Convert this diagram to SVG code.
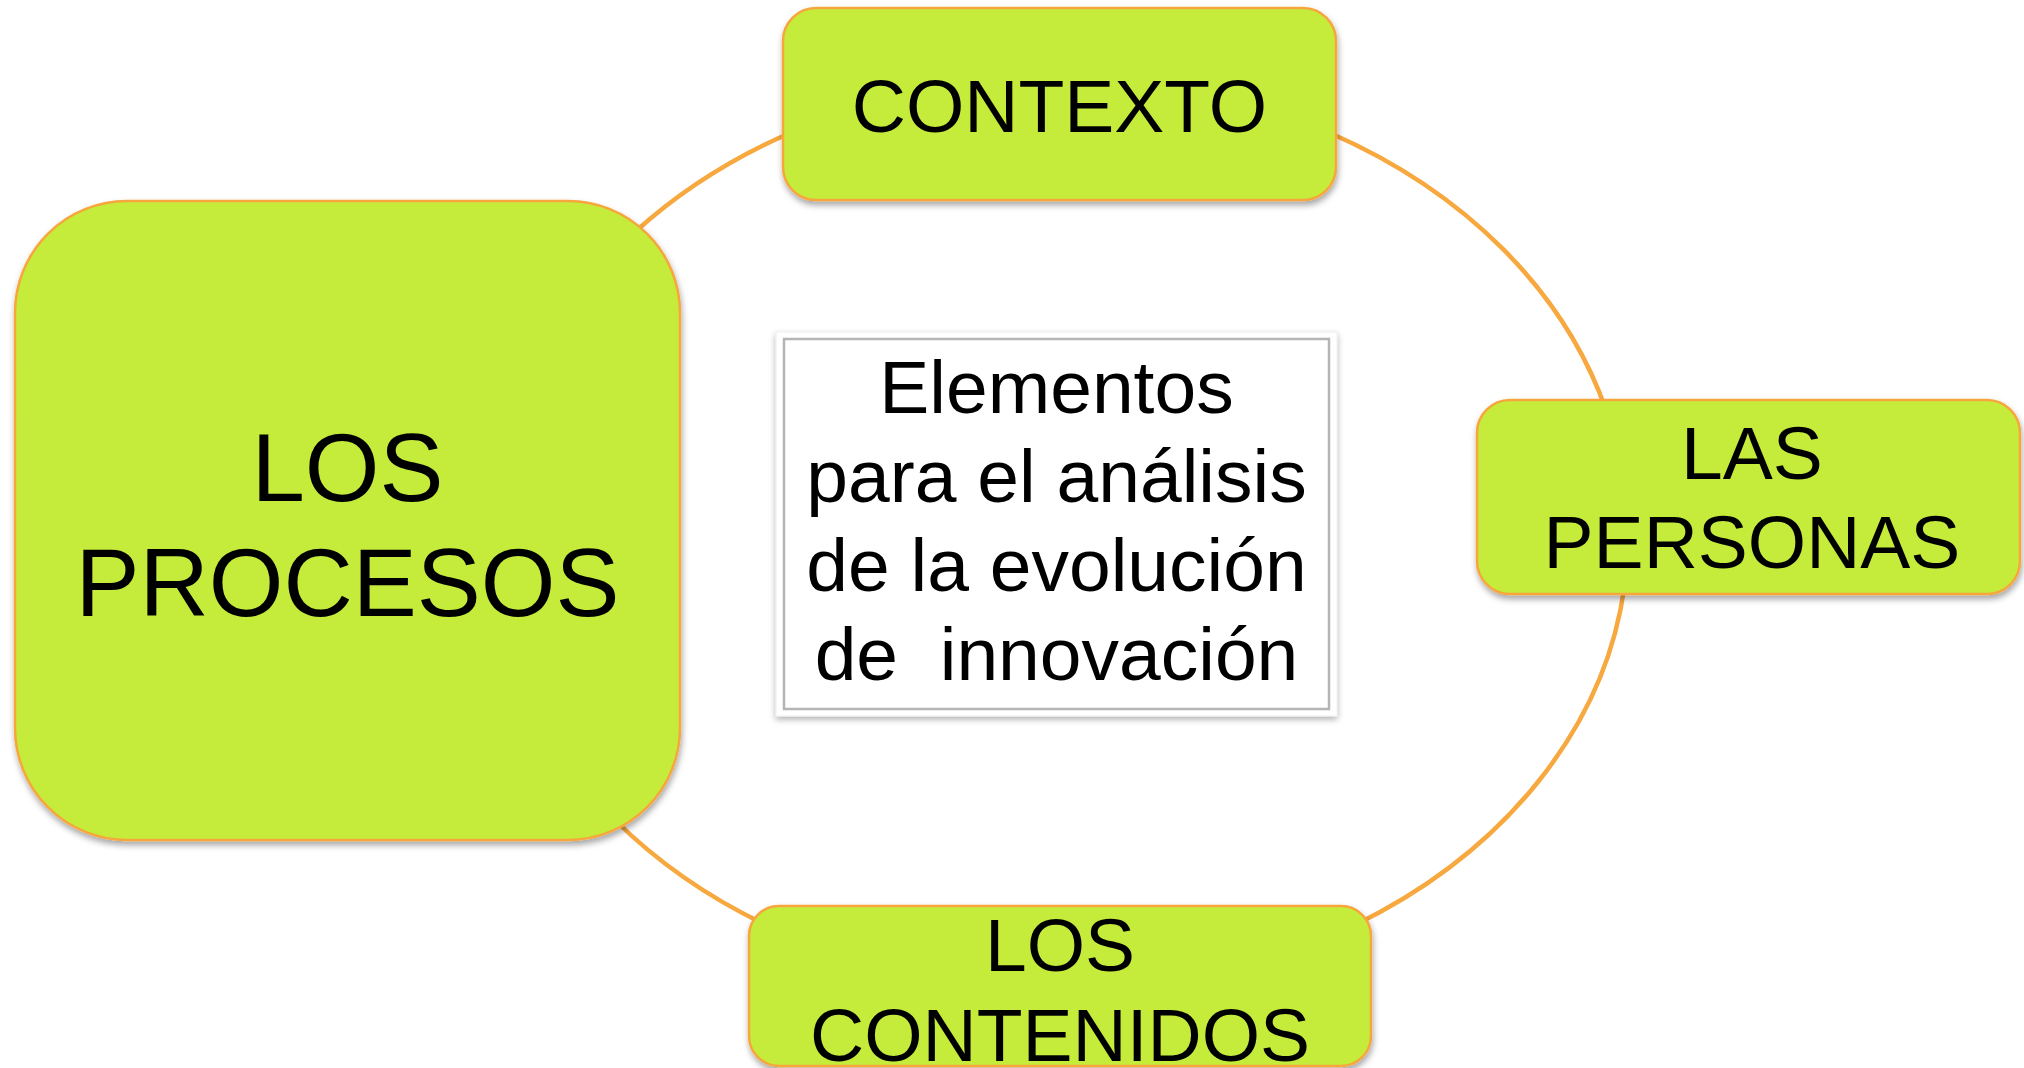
<svg xmlns="http://www.w3.org/2000/svg" width="2024" height="1068" viewBox="0 0 2024 1068">
  <defs>
    <filter id="sh" x="-10%" y="-10%" width="120%" height="125%">
      <feDropShadow dx="1" dy="4" stdDeviation="3" flood-color="#000" flood-opacity="0.35"/>
    </filter>
    <filter id="sh2" x="-10%" y="-10%" width="120%" height="125%">
      <feDropShadow dx="0" dy="3" stdDeviation="3" flood-color="#000" flood-opacity="0.3"/>
    </filter>
  </defs>
  <style>
    .node { fill: #C5EC3A; stroke: #F7A63C; stroke-width: 2.5; filter: url(#sh); }
    .lbl { font-family: "Liberation Sans", Arial, sans-serif; fill: #000; text-anchor: middle; }
    .conn { fill: none; stroke: #F7A83E; stroke-width: 4.5; }
  </style>
  <rect width="2024" height="1068" fill="#fff"/>
  <g id="connectors">
    <path class="conn" d="M1330,133 A570,455 0 0 1 1606,410"/>
    <path class="conn" d="M1624.5,586 A570,455 0 0 1 1355,925"/>
    <path class="conn" d="M764,924 A570,455 0 0 1 615,820"/>
    <path class="conn" d="M635,232 A570,455 0 0 1 790,133"/>
  </g>
  <g id="contexto">
    <rect class="node" x="783" y="8" width="553" height="192" rx="33"/>
    <text class="lbl" x="1059.5" y="132" font-size="75">CONTEXTO</text>
  </g>
  <g id="los-procesos">
    <rect class="node" x="15" y="201" width="665" height="639" rx="112"/>
    <text class="lbl" font-size="96"><tspan x="347.5" y="501">LOS</tspan><tspan x="347.5" y="616">PROCESOS</tspan></text>
  </g>
  <g id="las-personas">
    <rect class="node" x="1477" y="400" width="543" height="194" rx="33"/>
    <text class="lbl" font-size="75"><tspan x="1752" y="479">LAS</tspan><tspan x="1752" y="568">PERSONAS</tspan></text>
  </g>
  <g id="los-contenidos">
    <rect class="node" x="749" y="906" width="622" height="160" rx="30"/>
    <text class="lbl" font-size="75"><tspan x="1060" y="971">LOS</tspan><tspan x="1060" y="1061">CONTENIDOS</tspan></text>
  </g>
  <g id="centro">
    <rect x="776" y="332" width="561" height="384" fill="#fff" filter="url(#sh2)" stroke="#eeeeee" stroke-width="1"/>
    <rect x="784" y="339" width="545" height="370" fill="#fff" stroke="#b5b5b5" stroke-width="2.5"/>
    <text class="lbl" font-size="75" xml:space="preserve" style="white-space:pre"><tspan x="1056.5" y="413">Elementos</tspan><tspan x="1056.5" y="502">para el análisis</tspan><tspan x="1056.5" y="591">de la evolución</tspan><tspan x="1056.5" y="680">de  innovación</tspan></text>
  </g>
</svg>
